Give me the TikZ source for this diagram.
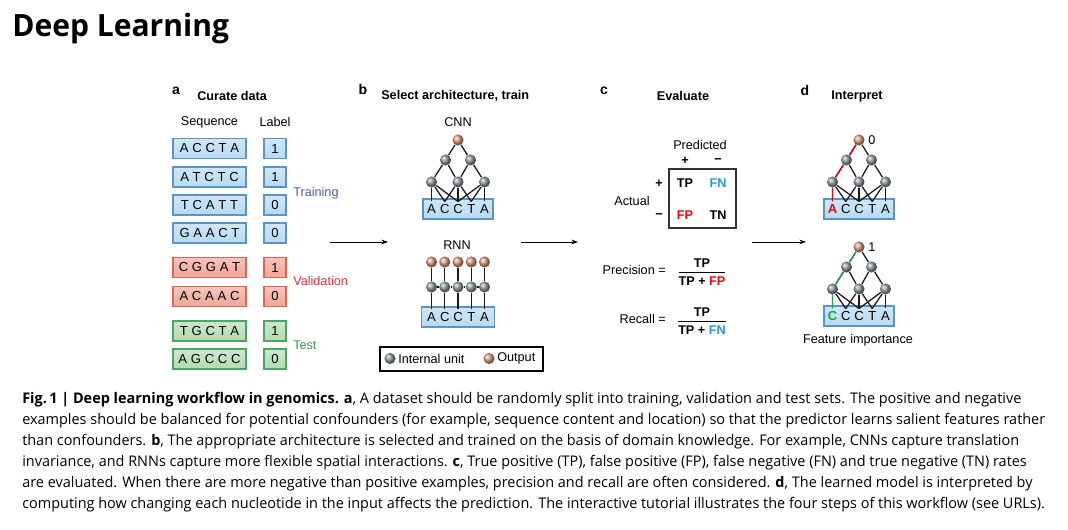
\documentclass[tikz,border=0pt]{standalone}
\usepackage{fontspec}
\usepackage{amsmath}
\setmainfont{Liberation Sans}
\newfontfamily\titlefont[FakeStretch=0.98]{Open Sans}
\newfontfamily\capfont[FakeStretch=0.985]{Open Sans}
\usetikzlibrary{arrows.meta}

\definecolor{seqblue}{HTML}{B5DAF3}
\definecolor{seqbluedark}{HTML}{5E93C6}
\definecolor{seqred}{HTML}{F2A597}
\definecolor{seqreddark}{HTML}{D8665B}
\definecolor{seqgreen}{HTML}{B2DBB0}
\definecolor{seqgreendark}{HTML}{4BA565}
\definecolor{trainblue}{HTML}{4B5EA8}
\definecolor{valred}{HTML}{D1383D}
\definecolor{testgreen}{HTML}{2F9A4E}
\definecolor{fnblue}{HTML}{1B9AD6}
\definecolor{fpred}{HTML}{E30613}
\definecolor{pathgreen}{HTML}{25A04A}
\definecolor{unitgrey}{HTML}{8E9CA3}
\definecolor{outorange}{HTML}{E49C7E}

\newcommand{\ls}{\hspace{2.8pt}}

\tikzset{
  txt/.style={font=\fontsize{9.5}{11}\selectfont, inner sep=0pt},
  head/.style={font=\fontsize{9.5}{11}\selectfont\bfseries, inner sep=0pt},
  panel/.style={font=\fontsize{10.5}{12}\selectfont\bfseries, inner sep=0pt},
  seqbox/.style={draw=#1dark, line width=0.8pt, top color=#1!65!white, bottom color=#1,
    minimum width=54.75pt, minimum height=15pt, inner sep=0pt, text height=6.8pt,
    font=\fontsize{9.8}{11}\selectfont},
  lblbox/.style={minimum width=16.5pt},
  unit/.style={circle, minimum size=8.3pt, inner sep=0pt, shading=ball, ball color=unitgrey},
  outunit/.style={unit, ball color=outorange},
  net/.style={line width=0.95pt, black!90},
  flow/.style={line width=0.7pt, -{Stealth[length=5pt, width=3.5pt]}},
  capline/.style={anchor=base west, inner sep=0pt, font=\capfont\fontsize{11}{13}\selectfont}
}

% CNN: name, x, y of output unit, letters
\newcommand{\cnnnet}[4]{%
  \node[outunit] (#1o) at (#2,#3) {};
  \node[unit] (#1ha) at (#2-12.5,#3+20) {};
  \node[unit] (#1hb) at (#2+12.5,#3+20) {};
  \node[unit] (#1ga) at (#2-26.5,#3+42) {};
  \node[unit] (#1gb) at (#2,#3+42) {};
  \node[unit] (#1gc) at (#2+26.5,#3+42) {};
  \node[seqbox=seqblue, minimum width=52.5pt] (#1box) at (#2,#3+69) {};
  \foreach \l [count=\i] in {#4} {
    \node[txt, font=\fontsize{9.8}{11}\selectfont, text height=6.8pt] (#1l\i) at ({#2+13.25*(\i-3)},#3+69) {\l};
    \coordinate (#1in\i) at ({#2+13.25*(\i-3)},#3+61.5);
  }
  \draw[net] (#1o) -- (#1ha);
  \draw[net] (#1o) -- (#1hb);
  \draw[net] (#1ha) -- (#1ga);
  \draw[net] (#1ha) -- (#1gb);
  \draw[net] (#1hb) -- (#1gb);
  \draw[net] (#1hb) -- (#1gc);
  \foreach \j/\k in {a/1,a/2,a/3,b/2,b/3,b/4,c/3,c/4,c/5}
    \draw[net] (#1g\j) -- (#1in\k);
}

\begin{document}
\begin{tikzpicture}[x=0.75pt, y=-0.75pt]
\useasboundingbox (0,0) rectangle (1068,530);

\node[anchor=base west, inner sep=0pt, font=\titlefont\fontsize{23}{26}\selectfont\bfseries] (title) at (12,37) {Deep Learning};

% a
\node[panel] (pa) at (176,91) {a};
\node[head, anchor=west] (ha) at (197,96) {Curate data};
\node[txt] (hseq) at (209.5,122) {Sequence};
\node[txt] (hlbl) at (275,122) {Label};

\node[seqbox=seqblue] (s1) at (209.5,148.5) {A\ls C\ls C\ls T\ls A};
\node[seqbox=seqblue] (s2) at (209.5,177) {A\ls T\ls C\ls T\ls C};
\node[seqbox=seqblue] (s3) at (209.5,205) {T\ls C\ls A\ls T\ls T};
\node[seqbox=seqblue] (s4) at (209.5,233) {G\ls A\ls A\ls C\ls T};
\node[seqbox=seqred] (s5) at (209.5,267.5) {C\ls G\ls G\ls A\ls T};
\node[seqbox=seqred] (s6) at (209.5,296.5) {A\ls C\ls A\ls A\ls C};
\node[seqbox=seqgreen] (s7) at (209.5,331) {T\ls G\ls C\ls T\ls A};
\node[seqbox=seqgreen] (s8) at (209.5,359) {A\ls G\ls C\ls C\ls C};

\node[seqbox=seqblue, lblbox] (l1) at (275,148.5) {1};
\node[seqbox=seqblue, lblbox] (l2) at (275,177) {1};
\node[seqbox=seqblue, lblbox] (l3) at (275,205) {0};
\node[seqbox=seqblue, lblbox] (l4) at (275,233) {0};
\node[seqbox=seqred, lblbox] (l5) at (275,267.5) {1};
\node[seqbox=seqred, lblbox] (l6) at (275,296.5) {0};
\node[seqbox=seqgreen, lblbox] (l7) at (275,331) {1};
\node[seqbox=seqgreen, lblbox] (l8) at (275,359) {0};

\node[txt, anchor=west, text=trainblue] (train) at (293,193) {Training};
\node[txt, anchor=west, text=valred] (valid) at (293,281) {Validation};
\node[txt, anchor=west, text=testgreen] (test) at (293,345) {Test};

% b
\node[panel] (pb) at (363,90) {b};
\node[head, anchor=west] (hb) at (381,96) {Select architecture, train};
\node[txt] (cnn) at (458,122) {CNN};
\cnnnet{b}{458}{140}{A,C,C,T,A}

\node[txt] (rnn) at (457,245) {RNN};
\node[seqbox=seqblue] (rbox) at (458,317) {};
\foreach \i in {1,...,5} {
  \node[outunit] (ro\i) at ({458+13.25*(\i-3)},262) {};
  \node[unit] (ru\i) at ({458+13.25*(\i-3)},287) {};
  \coordinate (rin\i) at ({458+13.25*(\i-3)},309.5);
  \draw[net] (ro\i) -- (ru\i);
  \draw[net] (ru\i) -- (rin\i);
}
\foreach \l [count=\i] in {A,C,C,T,A}
  \node[txt, font=\fontsize{9.8}{11}\selectfont, text height=6.8pt] (rl\i) at ({458+13.25*(\i-3)},317) {\l};
\draw[net] (ru1) -- (ru2);
\draw[net] (ru2) -- (ru3);
\draw[net] (ru3) -- (ru4);
\draw[net] (ru4) -- (ru5);

\node[draw, line width=0.8pt, minimum width=122.25pt, minimum height=18pt] (legend) at (461.5,359) {};
\node[unit] (lgu) at (390,358.5) {};
\node[txt, anchor=west] (lgut) at (398,358.5) {Internal unit};
\node[outunit] (lgo) at (489,358.5) {};
\node[txt, anchor=west] (lgot) at (497,358.5) {Output};

% c
\node[panel] (pc) at (604,91) {c};
\node[head] (hc) at (683,96) {Evaluate};
\node[txt] (pred) at (700,145) {Predicted};
\node[txt] (pplus) at (685,161) {\textbf{+}};
\node[txt] (pminus) at (718,161) {\textbf{−}};
\node[draw, line width=0.9pt, black!80, minimum width=50.25pt, minimum height=44.25pt] (cm) at (702.5,198.5) {};
\node[head] (tp) at (685,183) {TP};
\node[head, text=fnblue] (fn) at (718,183) {FN};
\node[head, text=fpred] (fp) at (685,215) {FP};
\node[head] (tn) at (718,215) {TN};
\node[txt] (aplus) at (659,184) {\textbf{+}};
\node[txt] (aminus) at (659,216) {\textbf{−}};
\node[txt] (actual) at (632,201) {Actual};

\node[txt, anchor=east] (prec) at (666,270) {Precision =};
\node[txt] (precf) at (702,272) {$\displaystyle\genfrac{}{}{0.9pt}{0}{\textbf{TP}}{\textbf{TP + \textcolor{fpred}{FP}}}$};
\node[txt, anchor=east] (rec) at (666,319) {Recall =};
\node[txt] (recf) at (702,321) {$\displaystyle\genfrac{}{}{0.9pt}{0}{\textbf{TP}}{\textbf{TP + \textcolor{fnblue}{FN}}}$};

% d
\node[panel] (pd) at (805,91) {d};
\node[head] (hd) at (857,96) {Interpret};
\cnnnet{dt}{859}{140}{{\textcolor{fpred}{\textbf{A}}},C,C,T,A}
\draw[net, fpred, line width=1.1pt] (dto) -- (dtha) -- (dtga) -- (dtin1);
\node[txt] (dtval) at (872,140) {0};
\cnnnet{db}{859}{247}{{\textcolor{pathgreen}{\textbf{C}}},C,C,T,A}
\draw[net, pathgreen, line width=1.1pt] (dbo) -- (dbha) -- (dbga) -- (dbin1);
\node[txt] (dbval) at (872,247) {1};
\node[txt] (feat) at (858,340) {Feature importance};

% flow arrows
\coordinate (f1s) at (330,242);
\coordinate (f1e) at (388,242);
\coordinate (f2s) at (521,242);
\coordinate (f2e) at (578,242);
\coordinate (f3s) at (752,242);
\coordinate (f3e) at (806,242);
\draw[flow] (f1s) -- (f1e);
\draw[flow] (f2s) -- (f2e);
\draw[flow] (f3s) -- (f3e);

% caption
\node[capline] (cap1) at (22,404) {\bfseries Fig.\,1 | Deep learning workflow in genomics. a\mdseries, A dataset should be randomly split into training, validation and test sets. The positive and negative};
\node[capline] (cap2) at (22,425) {examples should be balanced for potential confounders (for example, sequence content and location) so that the predictor learns salient features rather};
\node[capline] (cap3) at (22,446) {than confounders. \textbf{b}, The appropriate architecture is selected and trained on the basis of domain knowledge. For example, CNNs capture translation};
\node[capline] (cap4) at (22,467) {invariance, and RNNs capture more flexible spatial interactions. \textbf{c}, True positive (TP), false positive (FP), false negative (FN) and true negative (TN) rates};
\node[capline] (cap5) at (22,488) {are evaluated. When there are more negative than positive examples, precision and recall are often considered. \textbf{d}, The learned model is interpreted by};
\node[capline] (cap6) at (22,509) {computing how changing each nucleotide in the input affects the prediction. The interactive tutorial illustrates the four steps of this workflow (see URLs).};
\end{tikzpicture}
\end{document}
